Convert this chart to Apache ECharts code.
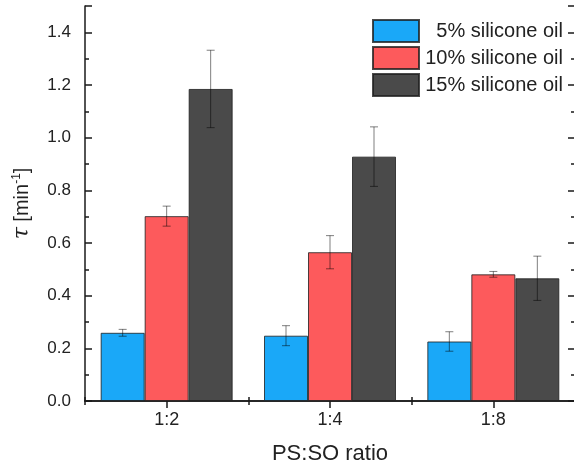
<!DOCTYPE html>
<html>
<head>
<meta charset="utf-8">
<script src="https://cdn.jsdelivr.net/npm/echarts@6/dist/echarts.min.js"></script>
<style>html,body{margin:0;padding:0;background:#fff;}#c{width:574px;height:468px;}</style>
</head>
<body>
<div id="c"></div>
<script>
const categories = ['1:2', '1:4', '1:8'];
const seriesNames = ['5% silicone oil', '10% silicone oil', '15% silicone oil'];
const oil5 = [0.259, 0.248, 0.226];
const err5 = [0.013, 0.038, 0.037];
const oil10 = [0.702, 0.565, 0.481];
const err10 = [0.038, 0.063, 0.011];
const oil15 = [1.185, 0.928, 0.466];
const err15 = [0.147, 0.113, 0.084];
const yTicks = [0, 0.2, 0.4, 0.6, 0.8, 1.0, 1.2, 1.4];

const colors = ['#1aa8f8', '#fd5a5c', '#4a4a4a'];
const values = [oil5, oil10, oil15];
const errors = [err5, err10, err15];
const BAR_W = 44;

const chart = echarts.init(document.getElementById('c'), null, {renderer: 'canvas'});
const axisColor = '#1a1a1a';
const fontFam = '"Liberation Sans", Arial, sans-serif';

function catAxis(pos, show, align, len) {
  return {
    type: 'category', data: categories, position: pos,
    boundaryGap: true,
    axisLine: {show: show, lineStyle: {color: axisColor, width: 1.5}},
    axisTick: {show: true, inside: true, alignWithLabel: align, length: len, lineStyle: {color: axisColor, width: 1.5}},
    axisLabel: {show: pos === 'bottom' && align, margin: 10, fontSize: 18, color: '#222', fontFamily: fontFam},
    splitLine: {show: false}
  };
}
function valAxis(pos, show, interval, len, labels) {
  return {
    type: 'value', position: pos, min: 0, max: 1.5, interval: interval,
    axisLine: {show: show, lineStyle: {color: axisColor, width: 1.5}},
    axisTick: {show: true, inside: true, length: len, lineStyle: {color: axisColor, width: 1.5}},
    axisLabel: {show: labels, margin: 14, fontSize: 17, color: '#222', fontFamily: fontFam,
      formatter: v => (yTicks.some(t => Math.abs(t - v) < 1e-9) ? v.toFixed(1) : '')},
    splitLine: {show: false}
  };
}

const xAxes = [catAxis('bottom', true, true, 7), catAxis('bottom', false, false, 4),
               catAxis('top', true, true, 7), catAxis('top', false, false, 4)];
xAxes[0].name = 'PS:SO ratio';
xAxes[0].nameLocation = 'middle';
xAxes[0].nameGap = 42;
xAxes[0].nameTextStyle = {fontSize: 22, color: '#222', fontFamily: fontFam};

const yAxes = [valAxis('left', true, 0.2, 7, true), valAxis('left', false, 0.1, 4, false),
               valAxis('right', true, 0.2, 7, false), valAxis('right', false, 0.1, 4, false)];
yAxes[0].name = '{t|τ}{n| [min}{s|-1}{n|]}';
yAxes[0].nameLocation = 'middle';
yAxes[0].nameRotate = 90;
yAxes[0].nameGap = 52;
yAxes[0].nameTextStyle = {
  fontSize: 20, color: '#222', fontFamily: fontFam,
  rich: {
    t: {fontSize: 22, fontStyle: 'italic', fontFamily: '"DejaVu Serif", "Liberation Serif", serif', color: '#222'},
    n: {fontSize: 20, fontFamily: fontFam, color: '#222'},
    s: {fontSize: 12, fontFamily: fontFam, color: '#222', verticalAlign: 'top', padding: [0, 0, 10, 0]}
  }
};

const series = [];
values.forEach((vals, i) => {
  series.push({
    name: seriesNames[i], type: 'bar', xAxisIndex: 0, yAxisIndex: 0,
    data: vals, barWidth: BAR_W, barGap: '0%',
    itemStyle: {color: colors[i], borderColor: 'rgba(30,30,30,0.8)', borderWidth: 1},
    z: 2
  });
});
values.forEach((vals, i) => {
  const offset = (i - 1) * BAR_W;
  series.push({
    name: 'err' + i, type: 'custom', xAxisIndex: 0, yAxisIndex: 0, z: 3,
    data: vals.map((v, k) => [k, v, errors[i][k]]),
    renderItem: function (params, api) {
      const k = api.value(0), v = api.value(1), e = api.value(2);
      const cx = api.coord([k, v])[0] + offset;
      const yt = api.coord([k, v + e])[1];
      const yb = api.coord([k, v - e])[1];
      const cap = 4;
      const st = {stroke: 'rgba(0,0,0,0.5)', lineWidth: 1};
      return {type: 'group', children: [
        {type: 'line', shape: {x1: cx, y1: yt, x2: cx, y2: yb}, style: st},
        {type: 'line', shape: {x1: cx - cap, y1: yt, x2: cx + cap, y2: yt}, style: st},
        {type: 'line', shape: {x1: cx - cap, y1: yb, x2: cx + cap, y2: yb}, style: st}
      ]};
    }
  });
});

chart.setOption({
  animation: false,
  backgroundColor: '#fff',
  grid: {left: 85, top: 6, width: 490, bottom: 67, containLabel: false, outerBoundsMode: 'none'},
  legend: {
    data: seriesNames, orient: 'vertical', left: 367, top: 14,
    itemWidth: 46, itemHeight: 22, itemGap: 3, icon: 'rect',
    formatter: name => '{r|' + name + '}',
    textStyle: {fontSize: 20, color: '#222', fontFamily: fontFam,
      rich: {r: {width: 139, align: 'right', fontSize: 20, lineHeight: 22, color: '#222', fontFamily: fontFam}}}
  },
  xAxis: xAxes,
  yAxis: yAxes,
  series: series
});
</script>
</body>
</html>
